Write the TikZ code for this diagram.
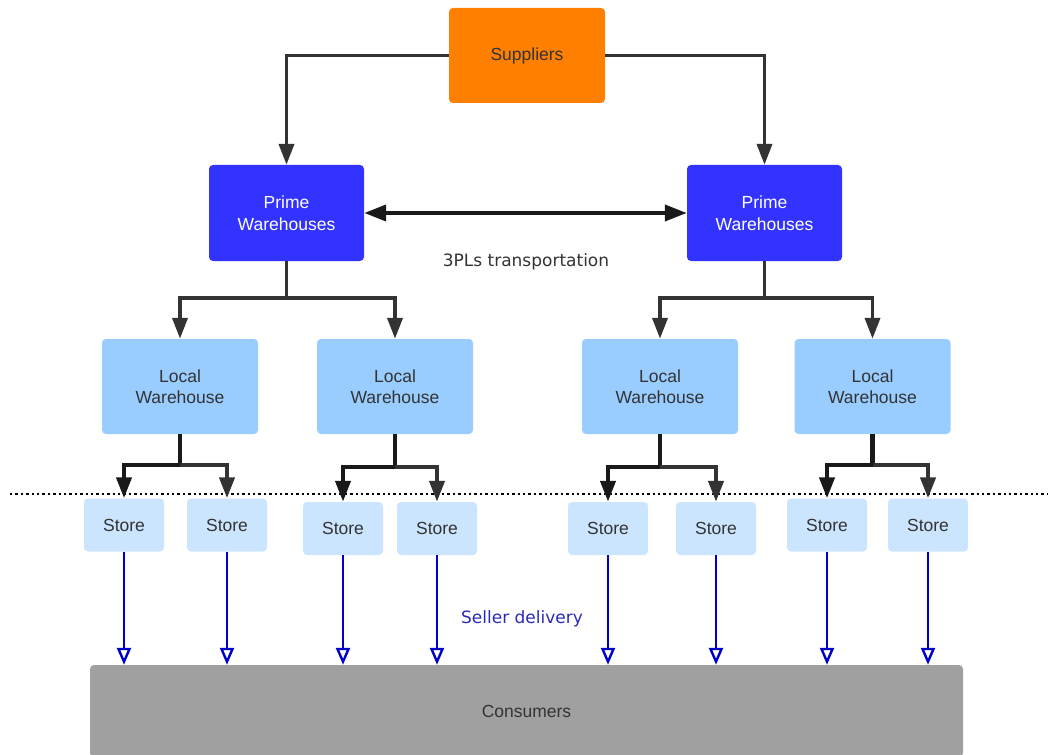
\documentclass[tikz,border=0pt]{standalone}
\usepackage{fontspec}
\setmainfont{Liberation Sans}
\newfontfamily\labelfont{DejaVu Sans}
\usetikzlibrary{arrows.meta}
\definecolor{supcol}{HTML}{FF8000}
\definecolor{primecol}{HTML}{3333FF}
\definecolor{localcol}{HTML}{99CCFF}
\definecolor{storecol}{HTML}{CCE5FF}
\definecolor{conscol}{HTML}{A0A0A0}
\definecolor{linecol}{HTML}{333333}
\definecolor{txtcol}{HTML}{333333}
\definecolor{delcol}{HTML}{0000CC}
\definecolor{dellabel}{HTML}{2A2AB8}
\tikzset{
  box/.style={rounded corners=4pt, inner sep=0pt, align=center,
    font=\fontsize{17.5}{21.5}\selectfont, text=txtcol},
  supbox/.style={box, fill=supcol, minimum width=156pt, minimum height=95pt},
  primebox/.style={box, fill=primecol, text=white, minimum width=155pt, minimum height=96pt},
  localbox/.style={box, fill=localcol, minimum width=156pt, minimum height=95pt},
  storebox/.style={box, fill=storecol, minimum width=80pt, minimum height=53pt},
  consbox/.style={box, fill=conscol, minimum width=873pt, minimum height=92pt},
  flow/.style={draw=linecol, line width=3.8pt, -{Triangle[length=21pt,width=15pt]}},
  flowdark/.style={flow, draw=black!90},
  twoway/.style={draw=black!90, line width=3.8pt, {Triangle[length=22pt,width=16pt]}-{Triangle[length=22pt,width=16pt]}},
  delivery/.style={draw=delcol, line width=2.4pt, -{Triangle[open,length=17pt,width=14pt]}},
  lbl/.style={font=\labelfont\fontsize{17}{20}\selectfont}
}
\begin{document}
\begin{tikzpicture}[x=1pt,y=-1pt]
\useasboundingbox (0,0) rectangle (1048,754);
\begin{scope}
\clip (0,0) rectangle (1048,754);

% supply chain levels
\node[supbox] (sup) at (527,55.5) {Suppliers};
\node[primebox] (pl) at (286.5,213) {Prime\\Warehouses};
\node[primebox] (pr) at (764.5,213) {Prime\\Warehouses};

\node[localbox] (l1) at (180,386.5) {Local\\Warehouse};
\node[localbox] (l2) at (395,386.5) {Local\\Warehouse};
\node[localbox] (l3) at (660,386.5) {Local\\Warehouse};
\node[localbox] (l4) at (872.5,386.5) {Local\\Warehouse};

\node[storebox] (s1) at (124,525) {Store};
\node[storebox] (s2) at (227,525) {Store};
\node[storebox] (s3) at (343,528.5) {Store};
\node[storebox] (s4) at (437,528.5) {Store};
\node[storebox] (s5) at (608,528.5) {Store};
\node[storebox] (s6) at (716,528.5) {Store};
\node[storebox] (s7) at (827,525) {Store};
\node[storebox] (s8) at (928,525) {Store};

\node[consbox] (cons) at (526.5,711) {Consumers};

% boundary between warehouses and stores
\draw[line width=2.4pt, dash pattern=on 2.4pt off 3pt] (10,494) -- (1048,494);

% suppliers to prime warehouses
\draw[flow] (sup.west) -| (pl.north);
\draw[flow] (sup.east) -| (pr.north);

% transport between prime warehouses
\draw[twoway] (pl.east) -- (pr.west);
\node[lbl, text=txtcol] (tpl) at (526,262) {3PLs transportation};

% prime warehouses to local warehouses
\coordinate (pj1) at ([yshift=-37pt]pl.south);
\coordinate (pj2) at ([yshift=-37pt]pr.south);
\draw[flow] (pl.south) -- (pj1) -| (l1.north);
\draw[flow] (pj1) -| (l2.north);
\draw[flow] (pr.south) -- (pj2) -| (l3.north);
\draw[flow] (pj2) -| (l4.north);

% local warehouses to stores
\coordinate (lj1) at ([yshift=-31pt]l1.south);
\coordinate (lj2) at ([yshift=-33pt]l2.south);
\coordinate (lj3) at ([yshift=-33pt]l3.south);
\coordinate (lj4) at ([yshift=-31pt]l4.south);
\draw[flowdark, line width=4.2pt] (l1.south) -- (lj1) -| (s1.north);
\draw[flow, line width=4.2pt] (lj1) -| (s2.north);
\draw[flowdark, line width=4.2pt] (l2.south) -- (lj2) -| (s3.north);
\draw[flow, line width=4.2pt] (lj2) -| (s4.north);
\draw[flowdark, line width=4.2pt] (l3.south) -- (lj3) -| (s5.north);
\draw[flow, line width=4.2pt] (lj3) -| (s6.north);
\draw[flowdark, line width=4.2pt] (l4.south) -- (lj4) -| (s7.north);
\draw[flow, line width=4.2pt] (lj4) -| (s8.north);

% stores deliver to consumers
\foreach \s in {s1,s2,s3,s4,s5,s6,s7,s8}
  \draw[delivery] (\s.south) -- (\s.south |- cons.north);
\node[lbl, text=dellabel] (sd) at (522,619) {Seller delivery};
\end{scope}
\end{tikzpicture}
\end{document}
